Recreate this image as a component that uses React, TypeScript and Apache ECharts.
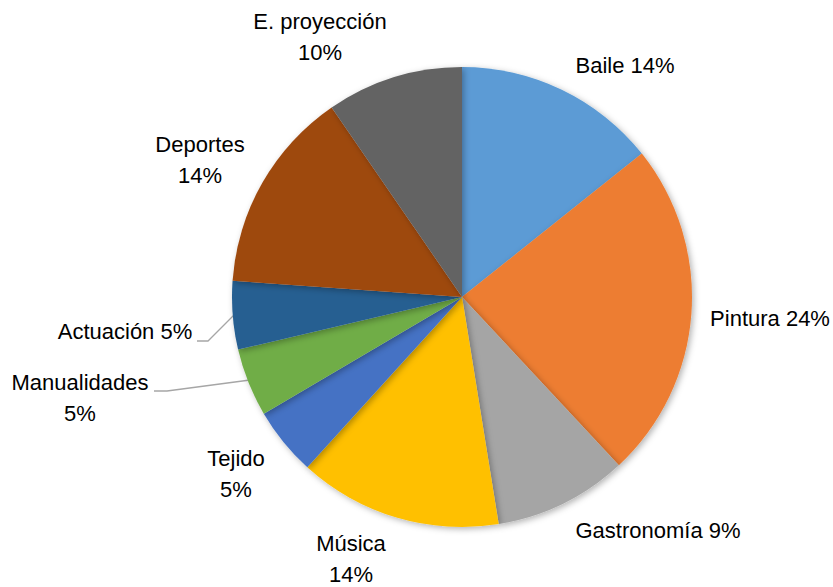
import React, { useEffect, useRef } from "react";
import * as echarts from "echarts";

const categories = [
  "Baile",
  "Pintura",
  "Gastronomía",
  "Música",
  "Tejido",
  "Manualidades",
  "Actuación",
  "Deportes",
  "E. proyección",
];
// shares (percent)
const values = [14.3, 23.8, 9.4, 14.3, 4.8, 4.8, 4.8, 14.3, 9.6];
const colors = [
  "#5B9BD5",
  "#ED7D31",
  "#A5A5A5",
  "#FFC000",
  "#4472C4",
  "#70AD47",
  "#255E91",
  "#9E480E",
  "#636363",
];
// label texts: name and percent on one line or two
const twoLine = [false, false, false, true, true, true, false, true, true];

// label placement (layout only)
const labelPos: Record<string, { x: number; y: number; line?: number[][] }> = {
  Baile: { x: 625, y: 65 },
  Pintura: { x: 770, y: 318 },
  "Gastronomía": { x: 658, y: 530 },
  "Música": { x: 351, y: 559 },
  Tejido: { x: 236, y: 474 },
  Manualidades: { x: 80, y: 398, line: [[250, 380], [167, 391], [154, 391]] },
  "Actuación": { x: 125, y: 331, line: [[234, 315], [208, 341], [197, 341]] },
  Deportes: { x: 200, y: 160 },
  "E. proyección": { x: 320, y: 37 },
};

export default function App() {
  const ref = useRef<HTMLDivElement>(null);
  useEffect(() => {
    if (!ref.current) return;
    const chart = echarts.init(ref.current, null, { renderer: "svg" });
    const data = categories.map((name, i) => ({
      name,
      value: values[i],
      itemStyle: { color: colors[i] },
      labelLine: { show: !!labelPos[name].line },
    }));
    chart.setOption({
      animation: false,
      series: [
        {
          type: "pie",
          center: [462, 297],
          radius: 230,
          startAngle: 90,
          clockwise: true,
          data,
          itemStyle: {
            borderWidth: 0,
            shadowBlur: 6,
            shadowColor: "rgba(0,0,0,0.3)",
            shadowOffsetX: 2,
            shadowOffsetY: 2,
          },
          label: {
            show: true,
            position: "outside",
            color: "#000",
            fontSize: 22,
            lineHeight: 31,
            overflow: "none",
            fontFamily: "'Liberation Sans', Arial, sans-serif",
            align: "center",
            formatter: (p: any) => {
              const pct = Math.round(p.percent) + "%";
              return twoLine[p.dataIndex] ? `${p.name}\n${pct}` : `${p.name} ${pct}`;
            },
          },
          labelLine: {
            show: true,
            lineStyle: { color: "#A6A6A6", width: 1.3 },
          },
          labelLayout: (params: any) => {
            const name = categories[params.dataIndex];
            const pos = labelPos[name];
            const out: any = {
              x: pos.x,
              y: pos.y,
              align: "center",
              verticalAlign: "middle",
            };
            if (pos.line) out.labelLinePoints = pos.line;
            return out;
          },
        },
      ],
    });
    return () => chart.dispose();
  }, []);
  return (
    <div
      ref={ref}
      style={{ position: "absolute", left: 0, top: 0, width: 833, height: 587, background: "#fff" }}
    />
  );
}
